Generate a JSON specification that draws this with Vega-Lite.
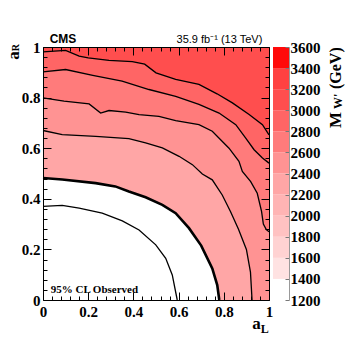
{
  "$schema": "https://vega.github.io/schema/vega-lite/v6.json",
  "background": "white",
  "padding": {"left": 4, "top": 32, "right": 5, "bottom": 5},
  "config": {"view": {"stroke": null}},
  "datasets": {
    "contours": [
      {"c":"L5","lev":2200,"i":0,"aL":0,"aR":0.482},
      {"c":"L5","lev":2200,"i":1,"aL":0.085,"aR":0.476},
      {"c":"L5","lev":2200,"i":2,"aL":0.233,"aR":0.462},
      {"c":"L5","lev":2200,"i":3,"aL":0.32,"aR":0.449},
      {"c":"L5","lev":2200,"i":4,"aL":0.38,"aR":0.429},
      {"c":"L5","lev":2200,"i":5,"aL":0.454,"aR":0.406},
      {"c":"L5","lev":2200,"i":6,"aL":0.528,"aR":0.376},
      {"c":"L5","lev":2200,"i":7,"aL":0.587,"aR":0.343},
      {"c":"L5","lev":2200,"i":8,"aL":0.646,"aR":0.284},
      {"c":"L5","lev":2200,"i":9,"aL":0.7,"aR":0.215},
      {"c":"L5","lev":2200,"i":10,"aL":0.749,"aR":0.125},
      {"c":"L5","lev":2200,"i":11,"aL":0.771,"aR":0.059},
      {"c":"L5","lev":2200,"i":12,"aL":0.78,"aR":0},
      {"c":"L5","lev":2200,"i":13,"aL":1,"aR":0,"e":1},
      {"c":"L5","lev":2200,"i":14,"aL":1,"aR":1,"e":1},
      {"c":"L5","lev":2200,"i":15,"aL":0,"aR":1,"e":1},
      {"c":"L4","lev":2400,"i":0,"aL":0,"aR":0.67},
      {"c":"L4","lev":2400,"i":1,"aL":0.085,"aR":0.654},
      {"c":"L4","lev":2400,"i":2,"aL":0.233,"aR":0.647},
      {"c":"L4","lev":2400,"i":3,"aL":0.38,"aR":0.638},
      {"c":"L4","lev":2400,"i":4,"aL":0.454,"aR":0.621},
      {"c":"L4","lev":2400,"i":5,"aL":0.528,"aR":0.601},
      {"c":"L4","lev":2400,"i":6,"aL":0.602,"aR":0.568},
      {"c":"L4","lev":2400,"i":7,"aL":0.661,"aR":0.535},
      {"c":"L4","lev":2400,"i":8,"aL":0.705,"aR":0.498},
      {"c":"L4","lev":2400,"i":9,"aL":0.749,"aR":0.475},
      {"c":"L4","lev":2400,"i":10,"aL":0.793,"aR":0.415},
      {"c":"L4","lev":2400,"i":11,"aL":0.83,"aR":0.349},
      {"c":"L4","lev":2400,"i":12,"aL":0.865,"aR":0.28},
      {"c":"L4","lev":2400,"i":13,"aL":0.9,"aR":0.2},
      {"c":"L4","lev":2400,"i":14,"aL":0.918,"aR":0.11},
      {"c":"L4","lev":2400,"i":15,"aL":0.925,"aR":0},
      {"c":"L4","lev":2400,"i":16,"aL":1,"aR":0,"e":1},
      {"c":"L4","lev":2400,"i":17,"aL":1,"aR":1,"e":1},
      {"c":"L4","lev":2400,"i":18,"aL":0,"aR":1,"e":1},
      {"c":"L3","lev":2600,"i":0,"aL":0,"aR":0.799},
      {"c":"L3","lev":2600,"i":1,"aL":0.093,"aR":0.786},
      {"c":"L3","lev":2600,"i":2,"aL":0.204,"aR":0.775},
      {"c":"L3","lev":2600,"i":3,"aL":0.255,"aR":0.739},
      {"c":"L3","lev":2600,"i":4,"aL":0.292,"aR":0.749},
      {"c":"L3","lev":2600,"i":5,"aL":0.366,"aR":0.743},
      {"c":"L3","lev":2600,"i":6,"aL":0.425,"aR":0.733},
      {"c":"L3","lev":2600,"i":7,"aL":0.513,"aR":0.726},
      {"c":"L3","lev":2600,"i":8,"aL":0.587,"aR":0.709},
      {"c":"L3","lev":2600,"i":9,"aL":0.69,"aR":0.693},
      {"c":"L3","lev":2600,"i":10,"aL":0.749,"aR":0.667},
      {"c":"L3","lev":2600,"i":11,"aL":0.823,"aR":0.6},
      {"c":"L3","lev":2600,"i":12,"aL":0.867,"aR":0.548},
      {"c":"L3","lev":2600,"i":13,"aL":0.882,"aR":0.508},
      {"c":"L3","lev":2600,"i":14,"aL":0.919,"aR":0.468},
      {"c":"L3","lev":2600,"i":15,"aL":0.948,"aR":0.422},
      {"c":"L3","lev":2600,"i":16,"aL":0.967,"aR":0.35},
      {"c":"L3","lev":2600,"i":17,"aL":0.975,"aR":0.3},
      {"c":"L3","lev":2600,"i":18,"aL":0.988,"aR":0.278},
      {"c":"L3","lev":2600,"i":19,"aL":1,"aR":0.27},
      {"c":"L3","lev":2600,"i":20,"aL":1,"aR":1,"e":1},
      {"c":"L3","lev":2600,"i":21,"aL":0,"aR":1,"e":1},
      {"c":"L2","lev":2800,"i":0,"aL":0,"aR":0.902},
      {"c":"L2","lev":2800,"i":1,"aL":0.1,"aR":0.911},
      {"c":"L2","lev":2800,"i":2,"aL":0.22,"aR":0.888},
      {"c":"L2","lev":2800,"i":3,"aL":0.35,"aR":0.865},
      {"c":"L2","lev":2800,"i":4,"aL":0.469,"aR":0.832},
      {"c":"L2","lev":2800,"i":5,"aL":0.587,"aR":0.805},
      {"c":"L2","lev":2800,"i":6,"aL":0.69,"aR":0.773},
      {"c":"L2","lev":2800,"i":7,"aL":0.779,"aR":0.739},
      {"c":"L2","lev":2800,"i":8,"aL":0.853,"aR":0.693},
      {"c":"L2","lev":2800,"i":9,"aL":0.897,"aR":0.64},
      {"c":"L2","lev":2800,"i":10,"aL":0.934,"aR":0.594},
      {"c":"L2","lev":2800,"i":11,"aL":0.971,"aR":0.561},
      {"c":"L2","lev":2800,"i":12,"aL":1,"aR":0.541},
      {"c":"L2","lev":2800,"i":13,"aL":1,"aR":1,"e":1},
      {"c":"L2","lev":2800,"i":14,"aL":0,"aR":1,"e":1},
      {"c":"L1","lev":3000,"i":0,"aL":0,"aR":0.981},
      {"c":"L1","lev":3000,"i":1,"aL":0.1,"aR":0.987},
      {"c":"L1","lev":3000,"i":2,"aL":0.16,"aR":0.964},
      {"c":"L1","lev":3000,"i":3,"aL":0.2,"aR":0.957},
      {"c":"L1","lev":3000,"i":4,"aL":0.292,"aR":0.947},
      {"c":"L1","lev":3000,"i":5,"aL":0.395,"aR":0.942},
      {"c":"L1","lev":3000,"i":6,"aL":0.45,"aR":0.932},
      {"c":"L1","lev":3000,"i":7,"aL":0.5,"aR":0.898},
      {"c":"L1","lev":3000,"i":8,"aL":0.587,"aR":0.872},
      {"c":"L1","lev":3000,"i":9,"aL":0.69,"aR":0.852},
      {"c":"L1","lev":3000,"i":10,"aL":0.77,"aR":0.815},
      {"c":"L1","lev":3000,"i":11,"aL":0.838,"aR":0.779},
      {"c":"L1","lev":3000,"i":12,"aL":0.912,"aR":0.733},
      {"c":"L1","lev":3000,"i":13,"aL":0.971,"aR":0.693},
      {"c":"L1","lev":3000,"i":14,"aL":1,"aR":0.653},
      {"c":"L1","lev":3000,"i":15,"aL":1,"aR":1,"e":1},
      {"c":"L1","lev":3000,"i":16,"aL":0,"aR":1,"e":1},
      {"c":"L6","i":0,"aL":0,"aR":0.37},
      {"c":"L6","i":1,"aL":0.085,"aR":0.374},
      {"c":"L6","i":2,"aL":0.16,"aR":0.363},
      {"c":"L6","i":3,"aL":0.262,"aR":0.343},
      {"c":"L6","i":4,"aL":0.351,"aR":0.313},
      {"c":"L6","i":5,"aL":0.425,"aR":0.277},
      {"c":"L6","i":6,"aL":0.499,"aR":0.218},
      {"c":"L6","i":7,"aL":0.543,"aR":0.165},
      {"c":"L6","i":8,"aL":0.572,"aR":0.099},
      {"c":"L6","i":9,"aL":0.594,"aR":0}
    ],
    "bins": [
      {"lo":1200,"hi":1400},{"lo":1400,"hi":1600},{"lo":1600,"hi":1800},{"lo":1800,"hi":2000},
      {"lo":2000,"hi":2200},{"lo":2200,"hi":2400},{"lo":2400,"hi":2600},{"lo":2600,"hi":2800},
      {"lo":2800,"hi":3000},{"lo":3000,"hi":3200},{"lo":3200,"hi":3400},{"lo":3400,"hi":3600}
    ]
  },
  "spacing": -3,
  "hconcat": [
    {
      "width": 226,
      "height": 253,
      "data": {"name": "contours"},
      "layer": [
        {
          "transform": [{"filter": "isValid(datum.lev)"}],
          "mark": {"type": "line", "strokeOpacity": 0, "interpolate": "linear"},
          "encoding": {
            "x": {"field": "aL", "type": "quantitative", "scale": {"domain": [0, 1], "nice": false, "zero": false},
              "axis": {"orient": "bottom", "zindex": 2,
                "values": [0,0.04,0.08,0.12,0.16,0.2,0.24,0.28,0.32,0.36,0.4,0.44,0.48,0.52,0.56,0.6,0.64,0.68,0.72,0.76,0.8,0.84,0.88,0.92,0.96,1],
                "labelExpr": "abs(datum.value*5 - round(datum.value*5)) < 0.001 ? format(datum.value, '~g') : ''",
                "tickSize": -8,
                "tickDash": {"condition": {"test": "abs(datum.value*5 - round(datum.value*5)) < 0.001", "value": [8, 0]}, "value": [4, 40]},
                "tickColor": "black", "domainColor": "black", "tickWidth": 1, "domainWidth": 1, "grid": false,
                "labelFont": "Liberation Serif", "labelFontWeight": "bold", "labelFontSize": 15, "labelColor": "black",
                "labelPadding": 12, "labelOverlap": false, "labelFlush": false,
                "title": "a", "titleFont": "Liberation Serif", "titleFontWeight": "bold", "titleFontSize": 17, "titleColor": "black",
                "titleX": 208.7, "titleY": 28.7, "titleAlign": "left", "titleBaseline": "alphabetic", "titleAngle": 0}},
            "y": {"field": "aR", "type": "quantitative", "scale": {"domain": [0, 1], "nice": false, "zero": false},
              "axis": {"orient": "left", "zindex": 2,
                "values": [0,0.04,0.08,0.12,0.16,0.2,0.24,0.28,0.32,0.36,0.4,0.44,0.48,0.52,0.56,0.6,0.64,0.68,0.72,0.76,0.8,0.84,0.88,0.92,0.96,1],
                "labelExpr": "abs(datum.value*5 - round(datum.value*5)) < 0.001 ? format(datum.value, '~g') : ''",
                "tickSize": -8,
                "tickDash": {"condition": {"test": "abs(datum.value*5 - round(datum.value*5)) < 0.001", "value": [8, 0]}, "value": [4, 40]},
                "tickColor": "black", "domainColor": "black", "tickWidth": 1, "domainWidth": 1, "grid": false,
                "labelFont": "Liberation Serif", "labelFontWeight": "bold", "labelFontSize": 15, "labelColor": "black",
                "labelPadding": 11, "labelOverlap": false, "labelFlush": false,
                "title": "a", "titleFont": "Liberation Serif", "titleFontWeight": "bold", "titleFontSize": 17, "titleColor": "black",
                "titleX": -24.7, "titleY": 12.3, "titleAlign": "left", "titleBaseline": "alphabetic", "titleAngle": 270}},
            "fill": {"field": "lev", "type": "quantitative",
              "scale": {"type": "threshold", "domain": [1400,1600,1800,2000,2200,2400,2600,2800,3000,3200,3400],
                "range": ["#ffffff","#ffe2e2","#ffd2d2","#ffc2c2","#ffb4b4","#ffa6a6","#ff9393","#ff7b7b","#ff6565","#ff4e4e","#ff4141","#ff0a0a"]},
              "legend": null},
            "detail": {"field": "c"},
            "order": {"field": "i", "type": "quantitative"}
          }
        },
        {
          "transform": [{"filter": "datum.e != 1 && datum.c != 'L5'"}],
          "mark": {"type": "line", "color": "black", "strokeWidth": 1.3},
          "encoding": {
            "x": {"field": "aL", "type": "quantitative",
              "axis": {"orient": "top", "zindex": 2,
                "values": [0,0.04,0.08,0.12,0.16,0.2,0.24,0.28,0.32,0.36,0.4,0.44,0.48,0.52,0.56,0.6,0.64,0.68,0.72,0.76,0.8,0.84,0.88,0.92,0.96,1],
                "labels": false, "title": null, "grid": false,
                "tickSize": -8,
                "tickDash": {"condition": {"test": "abs(datum.value*5 - round(datum.value*5)) < 0.001", "value": [8, 0]}, "value": [4, 40]},
                "tickColor": "black", "domainColor": "black", "tickWidth": 1, "domainWidth": 1}},
            "y": {"field": "aR", "type": "quantitative",
              "axis": {"orient": "right", "zindex": 2,
                "values": [0,0.04,0.08,0.12,0.16,0.2,0.24,0.28,0.32,0.36,0.4,0.44,0.48,0.52,0.56,0.6,0.64,0.68,0.72,0.76,0.8,0.84,0.88,0.92,0.96,1],
                "labels": false, "title": null, "grid": false,
                "tickSize": -8,
                "tickDash": {"condition": {"test": "abs(datum.value*5 - round(datum.value*5)) < 0.001", "value": [8, 0]}, "value": [4, 40]},
                "tickColor": "black", "domainColor": "black", "tickWidth": 1, "domainWidth": 1}},
            "detail": {"field": "c"},
            "order": {"field": "i", "type": "quantitative"}
          }
        },
        {
          "transform": [{"filter": "datum.e != 1 && datum.c == 'L5'"}],
          "mark": {"type": "line", "color": "black", "strokeWidth": 2.6},
          "encoding": {
            "x": {"field": "aL", "type": "quantitative", "axis": null},
            "y": {"field": "aR", "type": "quantitative", "axis": null},
            "detail": {"field": "c"},
            "order": {"field": "i", "type": "quantitative"}
          }
        },
        {
          "data": {"values": [{}]},
          "mark": {"type": "text", "text": "95% CL Observed", "font": "Liberation Serif", "fontWeight": "bold", "fontSize": 11, "color": "black", "align": "left", "baseline": "alphabetic", "dx": 7.7, "dy": -7.5},
          "encoding": {
            "x": {"datum": 0, "type": "quantitative", "axis": null},
            "y": {"datum": 0, "type": "quantitative", "axis": null}
          }
        },
        {
          "data": {"values": [{}]},
          "mark": {"type": "text", "text": "CMS", "font": "Liberation Sans", "fontWeight": "bold", "fontSize": 12, "color": "black", "align": "left", "baseline": "alphabetic", "dx": 6.7, "dy": -4.3, "clip": false},
          "encoding": {
            "x": {"datum": 0, "type": "quantitative", "axis": null},
            "y": {"datum": 1, "type": "quantitative", "axis": null}
          }
        },
        {
          "data": {"values": [{}]},
          "mark": {"type": "text", "text": "35.9 fb⁻¹ (13 TeV)", "font": "Liberation Sans", "fontSize": 11, "color": "black", "align": "right", "baseline": "alphabetic", "dx": -6.7, "dy": -4.3, "clip": false},
          "encoding": {
            "x": {"datum": 1, "type": "quantitative", "axis": null},
            "y": {"datum": 1, "type": "quantitative", "axis": null}
          }
        },
        {
          "data": {"values": [{}]},
          "mark": {"type": "text", "text": "L", "font": "Liberation Serif", "fontWeight": "bold", "fontSize": 12, "color": "black", "align": "left", "baseline": "alphabetic", "dx": -8.3, "dy": 33.3, "clip": false},
          "encoding": {
            "x": {"datum": 1, "type": "quantitative", "axis": null},
            "y": {"datum": 0, "type": "quantitative", "axis": null}
          }
        },
        {
          "data": {"values": [{}]},
          "mark": {"type": "text", "text": "R", "font": "Liberation Serif", "fontWeight": "bold", "fontSize": 10, "color": "black", "align": "left", "baseline": "alphabetic", "angle": 270, "dx": -4.3, "dy": -24.5, "clip": false},
          "encoding": {
            "x": {"datum": 0, "type": "quantitative", "axis": null},
            "y": {"datum": 1, "type": "quantitative", "axis": null}
          }
        }
      ],
      "resolve": {"axis": {"x": "independent", "y": "independent"}}
    },
    {
      "width": 16,
      "height": 253,
      "layer": [
        {
          "data": {"name": "bins"},
          "mark": {"type": "rect"},
          "encoding": {
            "y": {"field": "lo", "type": "quantitative", "scale": {"domain": [1200, 3600], "nice": false, "zero": false},
              "axis": {"orient": "right", "zindex": 2, "values": [1200,1400,1600,1800,2000,2200,2400,2600,2800,3000,3200,3400,3600],
                "format": "d",
                "tickSize": -4, "tickColor": "#777777", "domainColor": "#999999", "domainWidth": 1, "tickWidth": 1, "grid": false,
                "labelFont": "Liberation Serif", "labelFontWeight": "bold", "labelFontSize": 15, "labelColor": "black",
                "labelPadding": 5, "labelOverlap": false, "labelFlush": false, "title": null}},
            "y2": {"field": "hi"},
            "fill": {"field": "lo", "type": "quantitative",
              "scale": {"type": "threshold", "domain": [1400,1600,1800,2000,2200,2400,2600,2800,3000,3200,3400],
                "range": ["#ffffff","#ffe2e2","#ffd2d2","#ffc2c2","#ffb4b4","#ffa6a6","#ff9393","#ff7b7b","#ff6565","#ff4e4e","#ff4141","#ff0a0a"]},
              "legend": null}
          }
        },
        {
          "data": {"values": [{}]},
          "mark": {"type": "text", "text": "M", "font": "Liberation Serif", "fontWeight": "bold", "fontSize": 17, "color": "black", "align": "left", "baseline": "alphabetic", "angle": 270, "dx": -81, "dy": 52, "clip": false},
          "encoding": {
            "x": {"datum": 1, "type": "quantitative", "scale": {"domain": [0, 1]}, "axis": null},
            "y": {"datum": 3600, "type": "quantitative", "axis": null}
          }
        },
        {
          "data": {"values": [{}]},
          "mark": {"type": "text", "text": "W'", "font": "Liberation Serif", "fontWeight": "bold", "fontSize": 12, "color": "black", "align": "left", "baseline": "alphabetic", "angle": 270, "dx": -62, "dy": 53, "clip": false},
          "encoding": {
            "x": {"datum": 1, "type": "quantitative", "axis": null},
            "y": {"datum": 3600, "type": "quantitative", "axis": null}
          }
        },
        {
          "data": {"values": [{}]},
          "mark": {"type": "text", "text": "(GeV)", "font": "Liberation Serif", "fontWeight": "bold", "fontSize": 16, "color": "black", "align": "left", "baseline": "alphabetic", "angle": 270, "dx": -42, "dy": 52, "clip": false},
          "encoding": {
            "x": {"datum": 1, "type": "quantitative", "axis": null},
            "y": {"datum": 3600, "type": "quantitative", "axis": null}
          }
        }
      ],
      "resolve": {"axis": {"y": "independent"}}
    }
  ]
}
